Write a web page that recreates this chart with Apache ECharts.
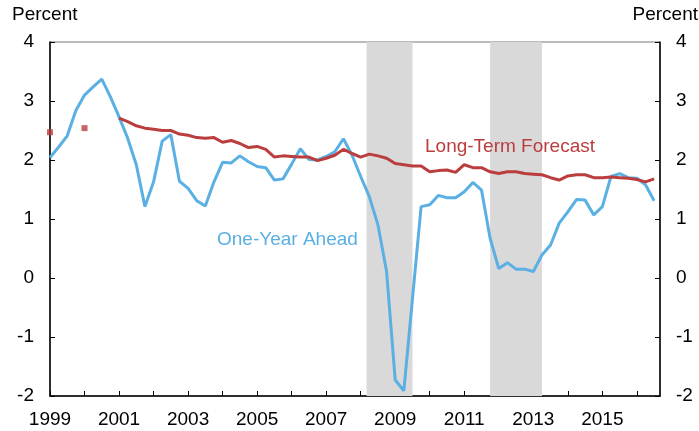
<!DOCTYPE html>
<html>
<head>
<meta charset="utf-8">
<script src="https://cdn.jsdelivr.net/npm/echarts@6/dist/echarts.min.js"></script>
<style>
  html, body { margin: 0; padding: 0; background: #fff; }
  #chart { width: 699px; height: 431px; }
</style>
</head>
<body>
<div id="chart"></div>
<script>
// quarterly dates, 1999Q1 .. 2016Q3
const startYear = 1999

// one-year-ahead inflation expectations (percent)
const oneYearAhead = [
  2.04, 2.22, 2.41, 2.84, 3.10, 3.24, 3.37, 3.07,
  2.73, 2.37, 1.92, 1.21, 1.63, 2.32, 2.43, 1.64,
  1.52, 1.31, 1.22, 1.63, 1.96, 1.95, 2.07, 1.97,
  1.89, 1.87, 1.66, 1.68, 1.93, 2.19, 2.01, 2.00,
  2.06, 2.14, 2.36, 2.08, 1.72, 1.38, 0.90, 0.11,
  -1.73, -1.91, -0.35, 1.21, 1.24, 1.40, 1.36, 1.36,
  1.46, 1.62, 1.49, 0.67, 0.16, 0.26, 0.15, 0.15,
  0.11, 0.39, 0.56, 0.93, 1.12, 1.33, 1.32, 1.07,
  1.21, 1.72, 1.77, 1.70, 1.69, 1.58, 1.31
]

// long-term forecast (percent), quarterly from 2001Q1
const longTermStart = 2001
const longTerm = [
  2.71, 2.65, 2.58, 2.54, 2.52, 2.50, 2.50, 2.44,
  2.42, 2.38, 2.37, 2.38, 2.30, 2.33, 2.28, 2.21,
  2.23, 2.18, 2.05, 2.07, 2.06, 2.05, 2.05, 1.99,
  2.03, 2.08, 2.18, 2.11, 2.05, 2.10, 2.07, 2.03,
  1.94, 1.92, 1.90, 1.90, 1.80, 1.82, 1.83, 1.79,
  1.92, 1.87, 1.87, 1.80, 1.77, 1.80, 1.80, 1.77,
  1.76, 1.75, 1.70, 1.66, 1.73, 1.75, 1.75, 1.70,
  1.70, 1.71, 1.70, 1.69, 1.67, 1.63, 1.68
]

// early annual long-term readings
const earlyYears = [1999, 2000]
const earlyValues = [2.47, 2.54]

// shaded periods
const shadeStart = [2008.17, 2011.75]
const shadeEnd = [2009.5, 2013.25]

const yTicks = [-2, -1, 0, 1, 2, 3, 4]

const font = '"Liberation Sans", Arial, Helvetica, sans-serif'
const blue = '#5aafe3'
const red = '#bb3d3e'
const fs = 19

const blueData = oneYearAhead.map((v, i) => [startYear + i * 0.25, v])
const redData = longTerm.map((v, i) => [longTermStart + i * 0.25, v])
const earlyData = earlyYears.map((y, i) => [y, earlyValues[i]])
const shadeData = shadeStart.map((s, i) => [{ xAxis: s }, { xAxis: shadeEnd[i] }])

const myChart = echarts.init(document.getElementById('chart'))

const axisLabelStyle = { color: '#000', fontSize: fs, fontFamily: font }

function yAxisFor (side) {
  return {
    type: 'value',
    min: yTicks[0],
    max: yTicks[yTicks.length - 1],
    interval: 1,
    position: side,
    axisLine: { show: true, onZero: false, lineStyle: { color: '#000', width: 1.5 } },
    axisTick: { show: true, inside: true, length: 5, lineStyle: { color: '#000' } },
    axisLabel: Object.assign({}, axisLabelStyle, { margin: 16 }),
    splitLine: { show: false }
  }
}

const option = {
  animation: false,
  grid: { left: 50, right: 39, top: 42, bottom: 35, show: true, borderColor: '#777', borderWidth: 1 },
  xAxis: {
    type: 'value',
    min: startYear,
    max: 2016.67,
    interval: 1,
    axisLine: { onZero: false, lineStyle: { color: '#000', width: 1.5 } },
    axisTick: { inside: true, length: 5, lineStyle: { color: '#000' } },
    axisLabel: Object.assign({}, axisLabelStyle, {
      margin: 14,
      showMaxLabel: false,
      formatter: v => (Number.isInteger(v) && v % 2 === 1) ? String(v) : ''
    }),
    splitLine: { show: false }
  },
  yAxis: [yAxisFor('left'), yAxisFor('right')],
  graphic: [
    { type: 'text', z: 100, left: 12, top: 5, style: { text: 'Percent', fontSize: fs, fontFamily: font, fill: '#000' } },
    { type: 'text', z: 100, right: 1, top: 5, style: { text: 'Percent', fontSize: fs, fontFamily: font, fill: '#000' } },
    { type: 'text', z: 100, left: 425, top: 137, style: { text: 'Long-Term Forecast', fontSize: fs, fontFamily: font, fill: red } },
    { type: 'text', z: 100, left: 217, top: 230, style: { text: 'One-Year Ahead', fontSize: fs, fontFamily: font, fill: blue } }
  ],
  series: [
    {
      name: 'One-Year Ahead',
      type: 'line',
      data: blueData,
      showSymbol: false,
      lineStyle: { color: blue, width: 3 },
      itemStyle: { color: blue },
      z: 3,
      markArea: {
        silent: true,
        itemStyle: { color: '#d9d9d9' },
        data: shadeData
      }
    },
    {
      name: 'Long-Term Forecast',
      type: 'line',
      data: redData,
      showSymbol: false,
      lineStyle: { color: red, width: 3 },
      itemStyle: { color: red },
      z: 4
    },
    {
      name: 'Long-Term Early',
      type: 'scatter',
      data: earlyData,
      symbol: 'rect',
      symbolSize: 6,
      itemStyle: { color: red },
      z: 4
    }
  ]
}

myChart.setOption(option)
</script>
</body>
</html>
